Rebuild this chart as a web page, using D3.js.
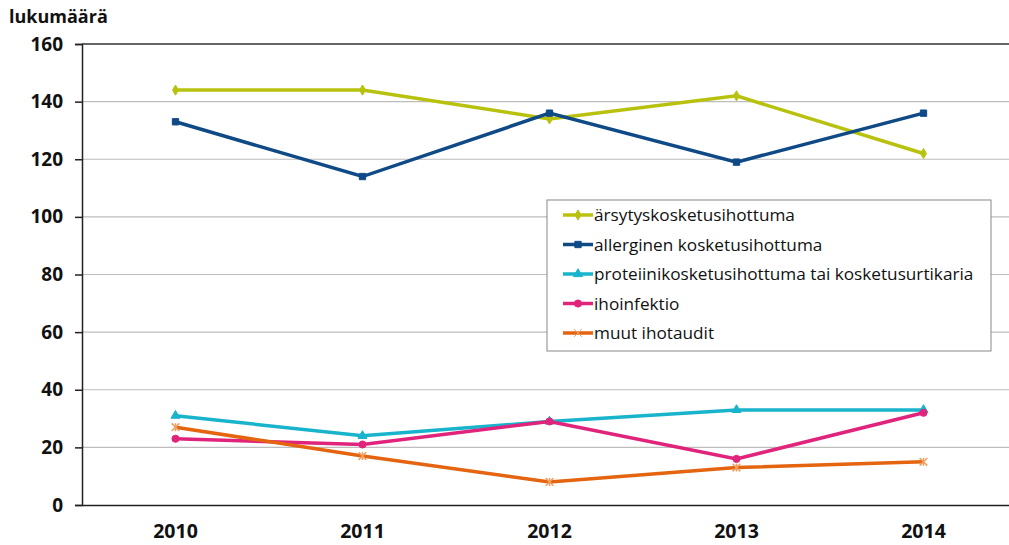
<!DOCTYPE html>
<head>
  <meta http-equiv="Content-Type" content="text/html; charset=utf-8">
  <style>
    body { margin: 0; background: #fff; }
    text { font-family: "Open Sans", "DejaVu Sans", sans-serif; }
  </style>
</head>
<body></body>
<script src="https://d3js.org/d3.v7.min.js"></script>
<script>

var width = 1009,
    height = 545;

// Data
var years = ["2010", "2011", "2012", "2013", "2014"];
var yTicks = [0, 20, 40, 60, 80, 100, 120, 140, 160];

var arsytys   = [144, 144, 134, 142, 122];
var allerg    = [133, 114, 136, 119, 136];
var proteiini = [31, 24, 29, 33, 33];
var ihoinf    = [23, 21, 29, 16, 32];
var muut      = [27, 17, 8, 13, 15];

var seriesNames = ["ärsytyskosketusihottuma", "allerginen kosketusihottuma",
                   "proteiinikosketusihottuma tai kosketusurtikaria", "ihoinfektio", "muut ihotaudit"];
var seriesValues = [arsytys, allerg, proteiini, ihoinf, muut];
var seriesColors = ["#B8C20E", "#0F4A86", "#18B4CC", "#E0247C", "#E4640F"];
var seriesMarkers = ["diamond", "square", "triangle", "circle", "star"];

var series = seriesNames.map(function(n, i){
  return {name: n, color: seriesColors[i], marker: seriesMarkers[i],
          values: years.map(function(y, j){ return {year: y, v: seriesValues[i][j]}; })};
});

var mLeft = 82, mTop = 44, mBottom = 505;

var xs = d3.scaleBand()
    .domain(years)
    .range([mLeft, mLeft + 935]);
var ys = d3.scaleLinear()
    .domain([0, 160])
    .range([mBottom, mTop]);

var svg = d3.select("body").append("svg")
    .attr("width", width)
    .attr("height", height);

// gridlines
svg.selectAll(".grid")
   .data(yTicks.filter(function(t){ return t > 0 && t < 160; }))
   .enter()
   .append("line")
   .attr("x1", mLeft).attr("x2", width)
   .attr("y1", function(d){ return ys(d); })
   .attr("y2", function(d){ return ys(d); })
   .attr("stroke", "#BDBDBD")
   .attr("stroke-width", 1.2);

// top border
svg.append("line")
   .attr("x1", mLeft).attr("x2", width)
   .attr("y1", ys(160)).attr("y2", ys(160))
   .attr("stroke", "#333").attr("stroke-width", 1.5);

// y axis
var yAxis = svg.append("g")
   .attr("transform", "translate(" + mLeft + ",0)")
   .call(d3.axisLeft(ys).tickValues(yTicks).tickSize(7).tickPadding(12));
yAxis.select(".domain").attr("stroke", "#222").attr("stroke-width", 1.5);
yAxis.selectAll(".tick line").attr("stroke", "#222").attr("stroke-width", 1.5);
yAxis.selectAll("text")
   .attr("font-size", 19).attr("font-weight", "bold").attr("fill", "#111")
   .style("font-family", "'Open Sans', sans-serif");

// x axis
var xAxis = svg.append("g")
   .attr("transform", "translate(0," + mBottom + ")")
   .call(d3.axisBottom(xs).tickSize(0).tickPadding(19));
xAxis.select(".domain").attr("stroke", "#222").attr("stroke-width", 1.5);
xAxis.selectAll("text")
   .attr("font-size", 19.5).attr("font-weight", "bold").attr("fill", "#111")
   .style("font-family", "'Open Sans', sans-serif");

// y title
svg.append("text")
   .attr("x", 9).attr("y", 23)
   .attr("font-size", 18).attr("font-weight", "bold").attr("fill", "#111")
   .text("lukumäärä");

var line = d3.line()
   .x(function(d){ return xs(d.year) + xs.bandwidth() / 2; })
   .y(function(d){ return ys(d.v); });

function symbolFor(m){
  if (m == "diamond") return d3.symbol().type(d3.symbolDiamond).size(30);
  if (m == "square") return d3.symbol().type(d3.symbolSquare).size(40);
  if (m == "triangle") return d3.symbol().type(d3.symbolTriangle).size(35);
  if (m == "circle") return d3.symbol().type(d3.symbolCircle).size(40);
  return d3.symbol().type(d3.symbolX).size(40);
}

var g = svg.selectAll(".series")
   .data(series)
   .enter()
   .append("g")
   .attr("class", "series");

g.append("path")
   .attr("d", function(d){ return line(d.values); })
   .attr("fill", "none")
   .attr("stroke", function(d){ return d.color; })
   .attr("stroke-width", 3.5);

g.each(function(s){
  d3.select(this).selectAll(".pt")
    .data(s.values)
    .enter()
    .append("path")
    .attr("transform", function(d){
      return "translate(" + (xs(d.year) + xs.bandwidth() / 2) + "," + ys(d.v) + ")";
    })
    .attr("d", symbolFor(s.marker)())
    .attr("fill", s.marker == "star" ? "none" : s.color)
    .attr("stroke", s.marker == "star" ? "#F0A060" : s.color)
    .attr("stroke-width", s.marker == "star" ? 1.5 : 1);
  if (s.marker == "star") {
    d3.select(this).selectAll(".pt2")
      .data(s.values)
      .enter()
      .append("line")
      .attr("x1", function(d){ return xs(d.year) + xs.bandwidth() / 2; })
      .attr("x2", function(d){ return xs(d.year) + xs.bandwidth() / 2; })
      .attr("y1", function(d){ return ys(d.v) - 4; })
      .attr("y2", function(d){ return ys(d.v) + 4; })
      .attr("stroke", "#F0A060").attr("stroke-width", 1.5);
  }
});

// legend
var lg = svg.append("g").attr("transform", "translate(547,200)");
lg.append("rect")
  .attr("width", 444).attr("height", 151)
  .attr("fill", "#fff").attr("stroke", "#888").attr("stroke-width", 1);

var items = lg.selectAll(".item")
  .data(series)
  .enter()
  .append("g")
  .attr("transform", function(d, i){ return "translate(0," + (15 + i * 29.5) + ")"; });
items.append("line")
  .attr("x1", 16).attr("x2", 46)
  .attr("stroke", function(d){ return d.color; })
  .attr("stroke-width", 3.5);
items.append("path")
  .attr("transform", "translate(31,0)")
  .attr("d", function(d){ return symbolFor(d.marker)(); })
  .attr("fill", function(d){ return d.marker == "star" ? "none" : d.color; })
  .attr("stroke", function(d){ return d.marker == "star" ? "#F0A060" : d.color; });
items.append("text")
  .attr("x", 47).attr("dy", "0.35em")
  .attr("font-size", 17.2).attr("fill", "#111")
  .text(function(d){ return d.name; });

</script>
</html>
